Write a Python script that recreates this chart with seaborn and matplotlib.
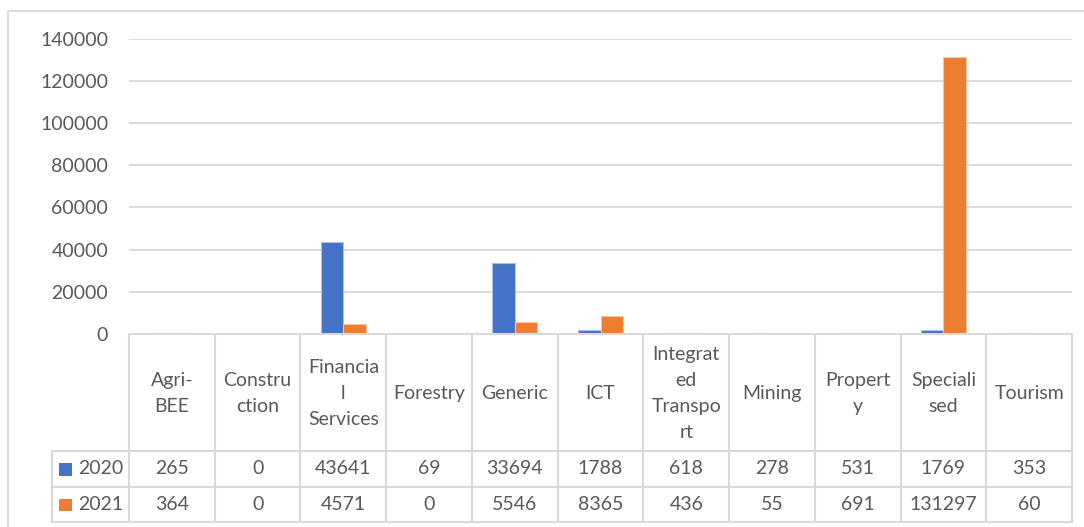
import matplotlib
matplotlib.use("Agg")
import matplotlib.pyplot as plt
import seaborn as sns
import pandas as pd
from matplotlib.patches import Rectangle

# Sector data (2020 vs 2021)
categories = ["Agri-BEE", "Construction", "Financial Services", "Forestry", "Generic", "ICT",
              "Integrated Transport", "Mining", "Property", "Specialised", "Tourism"]
header_labels = ["Agri-\nBEE", "Constru\nction", "Financia\nl\nServices", "Forestry", "Generic", "ICT",
                 "Integrat\ned\nTranspo\nrt", "Mining", "Propert\ny", "Speciali\nsed", "Tourism"]
series_names = ["2020", "2021"]
values_2020 = [265, 0, 43641, 69, 33694, 1788, 618, 278, 531, 1769, 353]
values_2021 = [364, 0, 4571, 0, 5546, 8365, 436, 55, 691, 131297, 60]
y_ticks = [0, 20000, 40000, 60000, 80000, 100000, 120000, 140000]
series_colors = ["#4472C4", "#ED7D31"]
edge_colors = ["#A9BDE6", "#F7C3A0"]

TEXT = "#595959"
GRID = "#D9D9D9"
FONT = "Lato"
FS = 14

df = pd.DataFrame({
    "category": categories * 2,
    "year": [series_names[0]] * len(categories) + [series_names[1]] * len(categories),
    "value": values_2020 + values_2021,
})

sns.set_theme(style="white")
plt.rcParams["font.family"] = [FONT, "DejaVu Sans"]

W, H = 1084, 527
fig = plt.figure(figsize=(W / 100, H / 100), dpi=100)

# plot area in pixel terms
pl, pr, pt, pb = 129, 1072, 38.5, 334
ax = fig.add_axes([pl / W, 1 - pb / H, (pr - pl) / W, (pb - pt) / H])
sns.barplot(data=df, x="category", y="value", hue="year", order=categories,
            hue_order=series_names, palette=series_colors, saturation=1,
            width=0.52, gap=0, legend=False, ax=ax, zorder=3)
# soft outline on each bar, one colour per series
n = len(categories)
for k, bar in enumerate(ax.patches[:2 * n]):
    bar.set_edgecolor(edge_colors[k // n])
    bar.set_linewidth(0.8)
ax.set_xlim(-0.5, n - 0.5)
ax.set_ylim(0, y_ticks[-1])
ax.set_yticks(y_ticks)
ax.set_yticklabels([str(t) for t in y_ticks], fontsize=FS, color=TEXT)
ax.tick_params(axis="y", length=0, pad=15)
ax.set_xticks([])
ax.set_xlabel("")
ax.set_ylabel("")
for s in ax.spines.values():
    s.set_visible(False)
for t in y_ticks[1:]:
    ax.axhline(t, color=GRID, lw=1.3, zorder=1)
ax.patch.set_alpha(0)

# data table beneath the plot area
tab = fig.add_axes([0, 0, 1, 1])
tab.set_xlim(0, W)
tab.set_ylim(H, 0)
tab.axis("off")
tab.patch.set_alpha(0)

cw = (pr - pl) / n
col_edges = [pl + i * cw for i in range(n + 1)]
legend_left = 52
row_y = [pb, 451, 487, 522]
lw = 1.5

tab.plot([pl, pr], [pb, pb], color=GRID, lw=lw)
for y in row_y[1:]:
    tab.plot([legend_left, pr], [y, y], color=GRID, lw=lw)
for x in col_edges:
    tab.plot([x, x], [pb, row_y[-1]], color=GRID, lw=lw)
tab.plot([legend_left, legend_left], [row_y[1], row_y[-1]], color=GRID, lw=lw)

for i, lab in enumerate(header_labels):
    cx = (col_edges[i] + col_edges[i + 1]) / 2
    tab.text(cx, (row_y[0] + row_y[1]) / 2 + 1, lab, ha="center", va="center",
             fontsize=FS, color=TEXT, linespacing=1.62)

for r, (name, vals, col) in enumerate(zip(series_names, [values_2020, values_2021], series_colors)):
    cy = (row_y[r + 1] + row_y[r + 2]) / 2
    tab.add_patch(Rectangle((59, cy - 6), 12.5, 12.5, facecolor=col, edgecolor="none"))
    tab.text(78, cy, name, ha="left", va="center", fontsize=FS, color=TEXT)
    for i, v in enumerate(vals):
        cx = (col_edges[i] + col_edges[i + 1]) / 2
        tab.text(cx, cy, str(v), ha="center", va="center", fontsize=FS, color=TEXT)

# chart border
tab.add_patch(Rectangle((8, 11), 1200, 600, facecolor="none", edgecolor=GRID, lw=1.3))

fig.savefig("out.png", dpi=100, facecolor="white")
